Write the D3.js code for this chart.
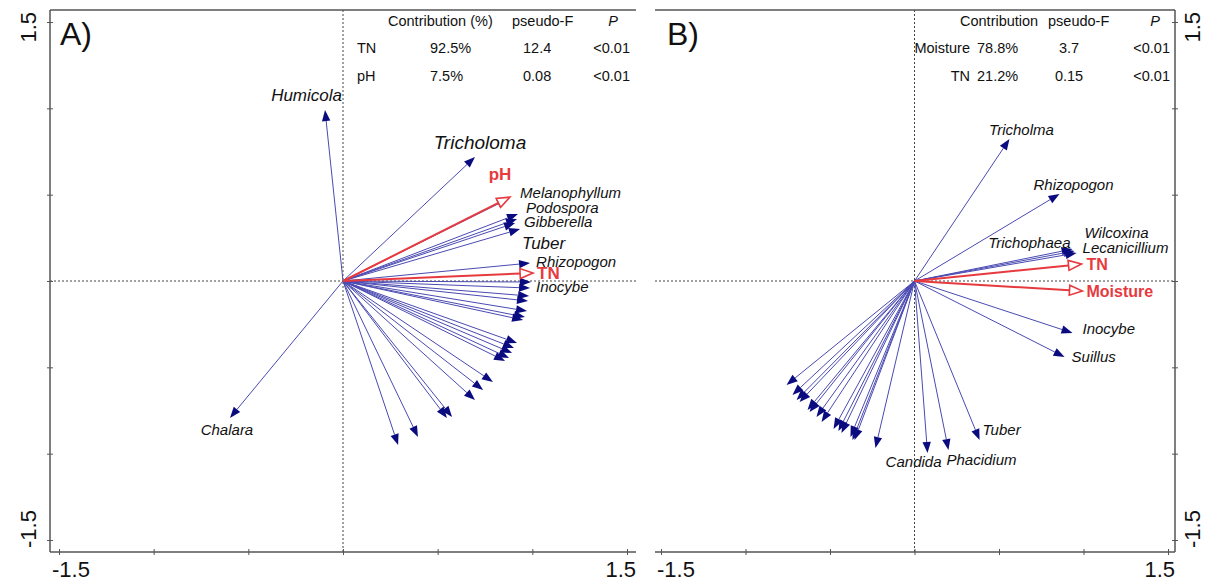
<!DOCTYPE html>
<html>
<head>
<meta charset="utf-8">
<script src="https://cdn.jsdelivr.net/npm/d3@7"></script>
<style>
    body { margin: 0; background: #fff; }
    svg { display: block; }
    text { font-family: Arial, "Liberation Sans", sans-serif; fill: #111; }
</style>
</head>
<body>
<svg id="chart" width="1206" height="582"></svg>
<script>
// ---- panel A: species scores (axis 1, axis 2) ----
const speciesA = ["Humicola", "Chalara", "Tricholoma", "Melanophyllum", "Podospora", "Gibberella", "", "Tuber",
    "Rhizopogon", "Inocybe", "", "", "", "", "", "", "", "", "", "", "", "", "", "", "", "", "", ""];
const axis1A = [-0.095, -0.597, 0.697, 0.872, 0.924, 0.919, 0.909, 0.935,
    0.988, 0.993, 0.988, 0.983, 0.977, 0.972, 0.961, 0.951, 0.919, 0.903, 0.893, 0.877, 0.856,
    0.792, 0.740, 0.697, 0.576, 0.549, 0.396, 0.291];
const axis2A = [0.990, -0.793, 0.718, 0.475, 0.388, 0.359, 0.336, 0.301,
    0.104, -0.006, -0.041, -0.087, -0.116, -0.174, -0.209, -0.226, -0.359, -0.388, -0.417, -0.446, -0.463,
    -0.585, -0.631, -0.689, -0.787, -0.793, -0.903, -0.950];
const envA = ["pH", "TN"];
const envAxis1A = [0.882, 1.004];
const envAxis2A = [0.486, 0.046];

// ---- panel B ----
const speciesB = ["Tricholma", "Rhizopogon", "Trichophaea", "Wilcoxina", "Lecanicillium", "Inocybe", "Suillus",
    "Tuber", "Phacidium", "Candida", "", "", "", "", "", "", "", "", "", "", "", "", "", "", ""];
const axis1B = [0.562, 0.858, 0.935, 0.947, 0.959, 0.935, 0.888, 0.385, 0.201, 0.077,
    -0.231, -0.355, -0.367, -0.379, -0.432, -0.450, -0.479, -0.550, -0.580, -0.621, -0.633, -0.680, -0.698, -0.722, -0.757];
const axis2B = [0.822, 0.504, 0.185, 0.174, 0.162, -0.301, -0.440, -0.921, -0.979, -0.996,
    -0.967, -0.921, -0.921, -0.903, -0.880, -0.869, -0.857, -0.816, -0.788, -0.759, -0.747, -0.701, -0.689, -0.660, -0.602];
const envB = ["TN", "Moisture"];
const envAxis1B = [0.988, 0.994];
const envAxis2B = [0.098, -0.058];

// ---- tables ----
const tableHeadA = ["Contribution (%)", "pseudo-F", "P"];
const tableRowsA = [["TN", "92.5%", "12.4", "<0.01"], ["pH", "7.5%", "0.08", "<0.01"]];
const tableHeadB = ["Contribution", "pseudo-F", "P"];
const tableRowsB = [["Moisture", "78.8%", "3.7", "<0.01"], ["TN", "21.2%", "0.15", "<0.01"]];

const axisTicks = [-1.5, -1, -0.5, 0, 0.5, 1, 1.5];

const blueLine = "#4a4ab2";
const blueHead = "#0b0b80";
const red = "#e63a3f";

const svg = d3.select("#chart");

// label placement [dx, dy, anchor, fontSize] relative to arrow tip
const placeA = {
    Humicola: [17, -9, "end", 17], Chalara: [-3, 17, "middle", 15], Tricholoma: [5, -8, "middle", 19],
    Melanophyllum: [12, -1, "start", 15], Podospora: [8, -1, "start", 15], Gibberella: [7, 8, "start", 15],
    Tuber: [2, 20, "start", 17], Rhizopogon: [6, 4, "start", 15], Inocybe: [5, 10, "start", 15],
    pH: [-10, -17, "middle", 17], TN: [4, 6, "start", 17]
};
const placeB = {
    Tricholma: [12, -4, "middle", 15], Rhizopogon: [14, -4, "middle", 15], Trichophaea: [-2, -1, "end", 15],
    Wilcoxina: [10, -13, "start", 15], Lecanicillium: [6, 0, "start", 15], Inocybe: [10, 1, "start", 15],
    Suillus: [7, 5, "start", 15], Tuber: [3, -5, "start", 15], Phacidium: [-2, 15, "start", 15],
    Candida: [14, 14, "end", 15], TN: [5, 6, "start", 16], Moisture: [4, 6, "start", 16]
};

function drawPanel(cfg) {
    const x = d3.scaleLinear().domain([-1.5, 1.5]).range(cfg.xRange);
    const y = d3.scaleLinear().domain([-1.5, 1.5]).range([540, 22]);
    const g = svg.append("g");

    // zero lines
    g.append("line").attr("x1", cfg.left).attr("x2", cfg.right).attr("y1", y(0)).attr("y2", y(0))
        .attr("stroke", "#444").attr("stroke-dasharray", "2,2");
    g.append("line").attr("x1", x(0)).attr("x2", x(0)).attr("y1", cfg.top).attr("y2", cfg.bottom)
        .attr("stroke", "#444").attr("stroke-dasharray", "2,2");

    // species arrows
    const sp = cfg.species.map((n, i) => ({ name: n, a1: cfg.ax1[i], a2: cfg.ax2[i] }));
    sp.forEach((d) => {
        const x0 = x(0), y0 = y(0), x1 = x(d.a1), y1 = y(d.a2);
        const ang = Math.atan2(y1 - y0, x1 - x0);
        const L = 11, W = 4.2;
        const bx = x1 - L * Math.cos(ang), by = y1 - L * Math.sin(ang);
        g.append("line").attr("x1", x0).attr("y1", y0).attr("x2", bx).attr("y2", by)
            .attr("stroke", blueLine).attr("stroke-width", 1);
        g.append("path")
            .attr("d", `M${x1},${y1}L${bx - W * Math.sin(ang)},${by + W * Math.cos(ang)}L${bx + W * Math.sin(ang)},${by - W * Math.cos(ang)}Z`)
            .attr("fill", blueHead);
    });

    // environmental arrows (hollow heads)
    cfg.env.forEach((n, i) => {
        const x0 = x(0), y0 = y(0), x1 = x(cfg.envX[i]), y1 = y(cfg.envY[i]);
        const ang = Math.atan2(y1 - y0, x1 - x0);
        const L = 13, W = 5;
        const bx = x1 - L * Math.cos(ang), by = y1 - L * Math.sin(ang);
        g.append("line").attr("x1", x0).attr("y1", y0).attr("x2", bx).attr("y2", by)
            .attr("stroke", red).attr("stroke-width", 2);
        g.append("path")
            .attr("d", `M${x1},${y1}L${bx - W * Math.sin(ang)},${by + W * Math.cos(ang)}L${bx + W * Math.sin(ang)},${by - W * Math.cos(ang)}Z`)
            .attr("fill", "#fff").attr("stroke", red).attr("stroke-width", 1.6);
        const p = cfg.place[n];
        g.append("text").attr("x", x1 + p[0]).attr("y", y1 + p[1]).attr("text-anchor", p[2])
            .style("font-size", p[3] + "px").style("font-weight", "bold").style("fill", red).text(n);
    });

    // species labels
    sp.filter((d) => d.name).forEach((d) => {
        const p = cfg.place[d.name];
        g.append("text").attr("x", x(d.a1) + p[0]).attr("y", y(d.a2) + p[1]).attr("text-anchor", p[2])
            .style("font-size", p[3] + "px").style("font-style", "italic").text(d.name);
    });

    // frame: top line, bottom axis, side axis
    g.append("line").attr("x1", cfg.left).attr("x2", cfg.right).attr("y1", cfg.top).attr("y2", cfg.top)
        .attr("stroke", "#555").attr("stroke-width", 1.3);
    g.append("line").attr("x1", cfg.left).attr("x2", cfg.right).attr("y1", cfg.bottom).attr("y2", cfg.bottom)
        .attr("stroke", "#555").attr("stroke-width", 1.5);
    g.append("line").attr("x1", cfg.side).attr("x2", cfg.side).attr("y1", cfg.top).attr("y2", cfg.bottom)
        .attr("stroke", "#555").attr("stroke-width", 1.5);

    const xAxis = g.append("g").attr("transform", `translate(0,${cfg.bottom})`)
        .call(d3.axisBottom(x).tickValues(axisTicks).tickSize(3).tickFormat(""));
    xAxis.select(".domain").remove();
    xAxis.selectAll(".tick line").attr("y1", -3).attr("y2", 3).attr("stroke", "#555");

    const yAxis = g.append("g").attr("transform", `translate(${cfg.side},0)`)
        .call(d3.axisLeft(y).tickValues(axisTicks).tickSize(3).tickFormat(""));
    yAxis.select(".domain").remove();
    yAxis.selectAll(".tick line").attr("x1", -3).attr("x2", 3).attr("stroke", "#555");

    // end labels of the axes
    g.append("text").attr("x", cfg.left + 2).attr("y", 577).style("font-size", "22px").text("-1.5");
    g.append("text").attr("x", cfg.right).attr("y", 577).attr("text-anchor", "end").style("font-size", "22px").text("1.5");
    g.append("text").attr("transform", `translate(${cfg.yLabelX},${cfg.top + 2}) rotate(-90)`)
        .attr("text-anchor", "end").style("font-size", "22px").text("1.5");
    g.append("text").attr("transform", `translate(${cfg.yLabelX},${cfg.bottom - 4}) rotate(-90)`)
        .style("font-size", "22px").text("-1.5");

    // panel letter
    g.append("text").attr("x", cfg.letterX).attr("y", 45).style("font-size", "32px").text(cfg.letter);

    // table
    const t = cfg.table;
    t.head.forEach((h, i) => {
        g.append("text").attr("x", t.headX[i]).attr("y", 26).attr("text-anchor", t.headAnchor[i])
            .style("font-size", "14.5px").style("font-style", h === "P" ? "italic" : "normal").text(h);
    });
    t.rows.forEach((r, j) => {
        r.forEach((c, i) => {
            g.append("text").attr("x", t.colX[i]).attr("y", 53 + j * 28).attr("text-anchor", t.colAnchor[i])
                .style("font-size", "14.5px").text(c);
        });
    });
}

drawPanel({
    letter: "A)", letterX: 60, left: 50, right: 636, top: 10, bottom: 552, side: 50, yLabelX: 36,
    xRange: [59, 627], species: speciesA, ax1: axis1A, ax2: axis2A,
    env: envA, envX: envAxis1A, envY: envAxis2A, place: placeA,
    table: {
        head: tableHeadA, headX: [388, 512, 613], headAnchor: ["start", "start", "middle"],
        rows: tableRowsA, colX: [357, 430, 523, 630], colAnchor: ["start", "start", "start", "end"]
    }
});

drawPanel({
    letter: "B)", letterX: 667, left: 655, right: 1175, top: 10, bottom: 552, side: 1175, yLabelX: 1200,
    xRange: [661, 1168], species: speciesB, ax1: axis1B, ax2: axis2B,
    env: envB, envX: envAxis1B, envY: envAxis2B, place: placeB,
    table: {
        head: tableHeadB, headX: [960, 1048, 1155], headAnchor: ["start", "start", "middle"],
        rows: tableRowsB, colX: [970, 977, 1069, 1170], colAnchor: ["end", "start", "middle", "end"]
    }
});
</script>
</body>
</html>
